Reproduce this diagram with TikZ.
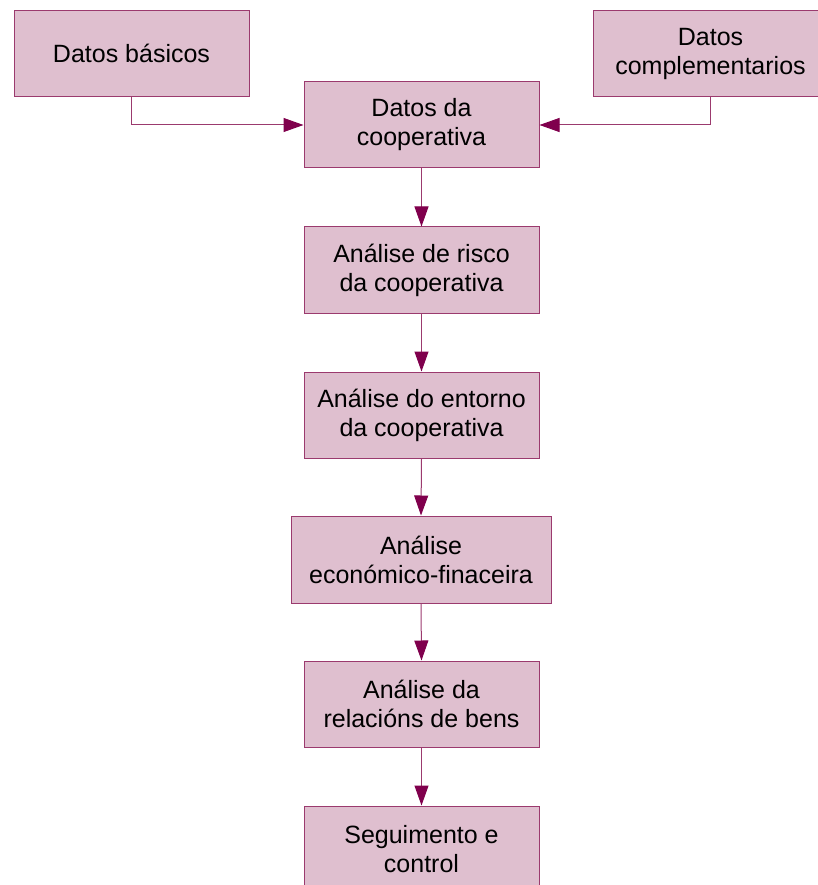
\documentclass[tikz,border=0pt]{standalone}
\usepackage{fontspec}
\setmainfont{Liberation Sans}
\usetikzlibrary{arrows.meta}
\definecolor{boxfill}{HTML}{DFBFCF}
\definecolor{boxline}{HTML}{9B3A6E}
\definecolor{tipfill}{HTML}{80004D}
\begin{document}
\begin{tikzpicture}[x=1pt,y=-1pt,
  box/.style={draw=boxline, fill=boxfill, line width=1pt,
    minimum width=235pt, minimum height=86pt, inner sep=0pt,
    align=center, font=\fontsize{25}{29}\selectfont},
  flow/.style={draw=boxline, line width=1pt,
    -{Triangle[length=20pt,width=14pt,color=tipfill]}}]
\useasboundingbox (0,0) rectangle (818,885);
\begin{scope}
  \clip (0,0) rectangle (818,885);
  % source boxes
  \node[box] (basic) at (131.5,53.5) {Datos básicos};
  \node[box] (compl) at (710.5,53.5) {Datos\\complementarios};
  % main chain
  \node[box] (coop)  at (421.5,125) {Datos da\\cooperativa};
  \node[box] (risk)  at (421.5,270) {Análise de risco\\da cooperativa};
  \node[box] (env)   at (421.5,415) {Análise do entorno\\da cooperativa};
  \node[box, minimum width=260pt, minimum height=87pt] (fin) at (421,559.5) {Análise\\económico-finaceira};
  \node[box] (goods) at (421.5,704) {Análise da\\relacións de bens};
  \node[box] (ctrl)  at (421.5,849) {Seguimento e\\control};
\end{scope}
% connectors
\draw[flow] (basic.south) |- (coop.west);
\draw[flow] (compl.south) |- (coop.east);
\draw[flow] (coop.south) -- (risk.north);
\draw[flow] (risk.south) -- (env.north);
\draw[flow] (env.south) -- (fin.north);
\draw[flow] (fin.south) -- (goods.north);
\draw[flow] (goods.south) -- (ctrl.north);
\end{tikzpicture}
\end{document}
